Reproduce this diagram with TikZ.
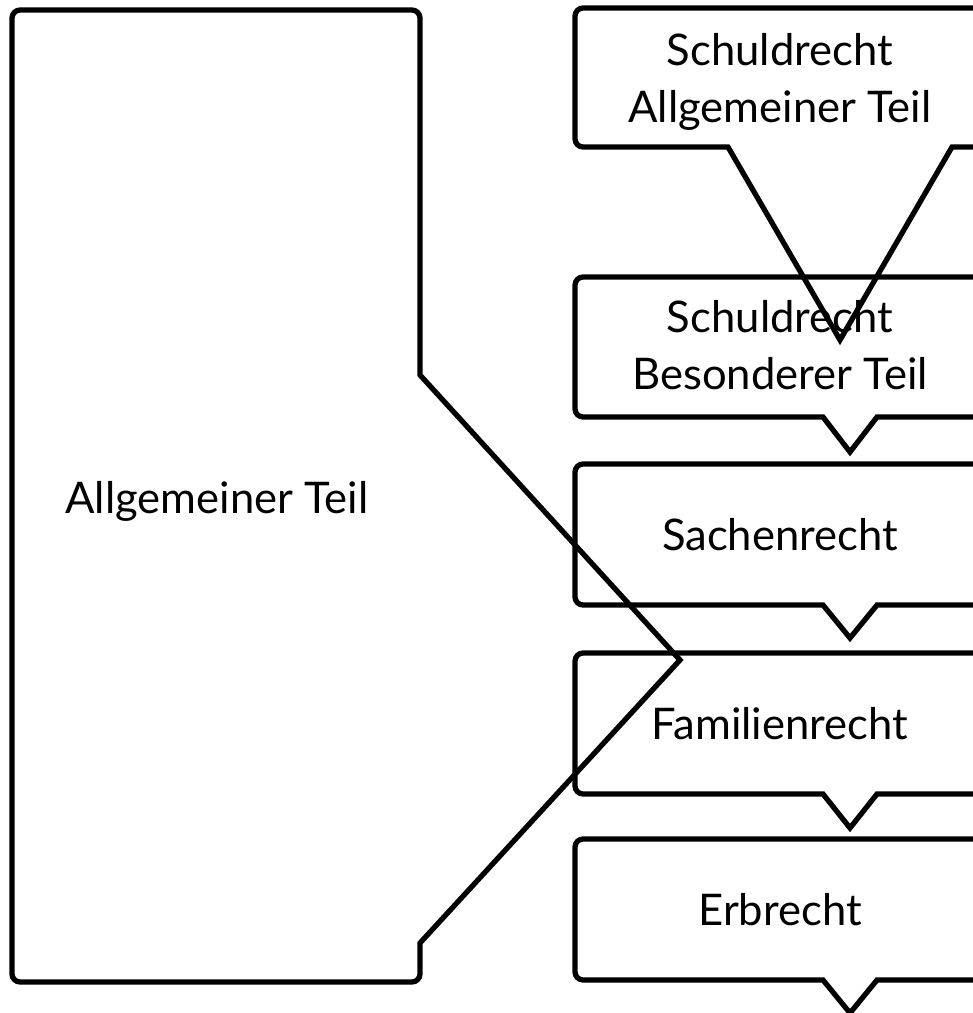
\documentclass[tikz,border=0pt]{standalone}
\usepackage{fontspec}
\setmainfont{Lato}

\begin{document}
\begin{tikzpicture}[yscale=-1, every node/.style={font=\fontsize{12.4}{16.2}\selectfont, align=center, inner sep=0pt, outer sep=0pt}, frame/.style={line width=1.5pt, line join=miter}]
\useasboundingbox (0,0) rectangle (9.73,10.13);

\draw[frame] (6.80,6.60) -- (4.20,3.75) [rounded corners=2.3pt] -- (4.20,0.10) -- (0.12,0.10) -- (0.12,9.82) -- (4.20,9.82) [sharp corners] -- (4.20,9.43) -- cycle;
\node[anchor=base] (at) at (2.17,5.13) {Allgemeiner Teil};

\draw[frame] (7.28,1.47) -- (8.40,3.40) -- (9.52,1.47) [rounded corners=2.3pt] -- (9.85,1.47) -- (9.85,0.08) -- (5.75,0.08) -- (5.75,1.47) [sharp corners] -- cycle;
\node (sat) at (7.80,0.815) {Schuldrecht\\Allgemeiner Teil};

\draw[frame] (8.23,4.17) -- (8.50,4.52) -- (8.77,4.17) [rounded corners=2.3pt] -- (9.85,4.17) -- (9.85,2.77) -- (5.75,2.77) -- (5.75,4.17) [sharp corners] -- cycle;
\node (sbt) at (7.80,3.45) {Schuldrecht\\Besonderer Teil};

\draw[frame] (8.23,6.05) -- (8.50,6.38) -- (8.77,6.05) [rounded corners=2.3pt] -- (9.85,6.05) -- (9.85,4.64) -- (5.75,4.64) -- (5.75,6.05) [sharp corners] -- cycle;
\node[anchor=base] (sr) at (7.80,5.505) {Sachenrecht};

\draw[frame] (8.23,7.94) -- (8.50,8.28) -- (8.77,7.94) [rounded corners=2.3pt] -- (9.85,7.94) -- (9.85,6.53) -- (5.75,6.53) -- (5.75,7.94) [sharp corners] -- cycle;
\node[anchor=base] (fr) at (7.80,7.395) {Familienrecht};

\draw[frame] (8.23,9.80) -- (8.50,10.13) -- (8.77,9.80) [rounded corners=2.3pt] -- (9.85,9.80) -- (9.85,8.39) -- (5.75,8.39) -- (5.75,9.80) [sharp corners] -- cycle;
\node[anchor=base] (er) at (7.80,9.255) {Erbrecht};
\end{tikzpicture}
\end{document}
